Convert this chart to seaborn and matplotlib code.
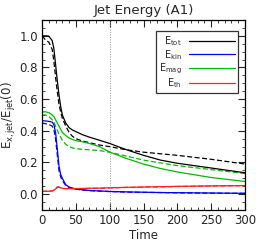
import matplotlib
matplotlib.use("Agg")
import matplotlib.pyplot as plt
from matplotlib.ticker import MultipleLocator
import seaborn as sns
import pandas as pd

time = [0, 5, 10, 15, 17.5, 20, 22.5, 25, 27.5, 30, 35, 40, 45, 50, 60, 70, 85, 100, 125, 150, 175, 200, 250, 300]

etot = [1.0, 1.0, 0.998, 0.97, 0.92, 0.82, 0.72, 0.63, 0.555, 0.50, 0.45, 0.42, 0.405, 0.395, 0.375, 0.36, 0.34, 0.32, 0.28, 0.245, 0.215, 0.195, 0.165, 0.135]
etot_d = [1.0, 0.975, 0.96, 0.915, 0.84, 0.74, 0.65, 0.57, 0.52, 0.48, 0.43, 0.39, 0.365, 0.35, 0.335, 0.325, 0.31, 0.30, 0.28, 0.265, 0.255, 0.245, 0.22, 0.19]
emag = [0.52, 0.52, 0.515, 0.50, 0.49, 0.47, 0.45, 0.43, 0.41, 0.39, 0.37, 0.355, 0.345, 0.338, 0.33, 0.32, 0.30, 0.266, 0.225, 0.19, 0.162, 0.14, 0.105, 0.08]
emag_d = [0.50, 0.50, 0.49, 0.47, 0.455, 0.43, 0.405, 0.38, 0.36, 0.34, 0.315, 0.30, 0.292, 0.287, 0.283, 0.28, 0.275, 0.265, 0.24, 0.215, 0.197, 0.18, 0.155, 0.13]
ekin = [0.465, 0.462, 0.46, 0.455, 0.44, 0.39, 0.29, 0.18, 0.125, 0.10, 0.06, 0.045, 0.038, 0.033, 0.027, 0.023, 0.02, 0.017, 0.014, 0.012, 0.01, 0.009, 0.007, 0.005]
ekin_d = [0.45, 0.445, 0.44, 0.43, 0.41, 0.35, 0.25, 0.15, 0.11, 0.085, 0.055, 0.042, 0.036, 0.031, 0.026, 0.022, 0.019, 0.016, 0.013, 0.011, 0.01, 0.008, 0.006, 0.005]
eth = [0.018, 0.018, 0.018, 0.02, 0.025, 0.032, 0.046, 0.045, 0.04, 0.037, 0.035, 0.035, 0.035, 0.035, 0.036, 0.037, 0.038, 0.04, 0.043, 0.045, 0.047, 0.049, 0.052, 0.054]
eth_d = [0.018, 0.018, 0.018, 0.02, 0.024, 0.03, 0.043, 0.043, 0.039, 0.036, 0.034, 0.034, 0.034, 0.034, 0.035, 0.036, 0.037, 0.039, 0.042, 0.044, 0.046, 0.048, 0.051, 0.053]

labels = ["E$_{\\rm tot}$", "E$_{\\rm kin}$", "E$_{\\rm mag}$", "E$_{\\rm th}$"]
colors = ["#000000", "#0000ff", "#00bb00", "#ff2020"]

sns.set_style("ticks")
plt.rcParams['font.family'] = ['DejaVu Sans']

fig = plt.figure(figsize=(2.66, 2.47), dpi=100)
ax = fig.add_axes([0.158, 0.150, 0.763, 0.769])

solid = [etot, ekin, emag, eth]
dashed = [etot_d, ekin_d, emag_d, eth_d]

for lab, col, d in zip(labels, colors, dashed):
    df = pd.DataFrame({"Time": time, "val": d})
    sns.lineplot(data=df, x="Time", y="val", ax=ax, color=col, lw=0.9,
                 linestyle=(0, (4, 2)), legend=False)
for lab, col, s in zip(labels, colors, solid):
    df = pd.DataFrame({"Time": time, "val": s})
    sns.lineplot(data=df, x="Time", y="val", ax=ax, color=col, lw=0.9, label=lab)

ax.axvline(100, color="#999999", lw=0.7, linestyle=(0, (1, 1.5)))

ax.set_xlim(0, 300)
ax.set_ylim(-0.1, 1.1)
ax.xaxis.set_major_locator(MultipleLocator(50))
ax.xaxis.set_minor_locator(MultipleLocator(10))
ax.yaxis.set_major_locator(MultipleLocator(0.2))
ax.yaxis.set_minor_locator(MultipleLocator(0.05))
ax.tick_params(which="both", direction="in", top=True, right=True, labelsize=8.5, pad=3)
ax.tick_params(which="major", length=5, width=0.8)
ax.tick_params(which="minor", length=2.5, width=0.6)
for sp in ax.spines.values():
    sp.set_linewidth(0.9)
    sp.set_color("black")

ax.set_xlabel("Time", fontsize=8.5, labelpad=1)
ax.set_ylabel("E$_{\\rm x,jet}$/E$_{\\rm jet}$(0)", fontsize=8.5, labelpad=1)
ax.set_title("Jet Energy (A1)", fontsize=9.5, pad=4)

leg = ax.legend(loc="upper right", bbox_to_anchor=(0.966, 0.942), markerfirst=False,
                fontsize=7, frameon=True, fancybox=False, handlelength=4.7,
                labelspacing=0.0, borderpad=0.3, handletextpad=0.8, borderaxespad=0)
leg.get_frame().set_edgecolor("black")
leg.get_frame().set_linewidth(0.9)
for t in leg.get_texts():
    t.set_ha("right")

fig.savefig("out.png", dpi=100)
